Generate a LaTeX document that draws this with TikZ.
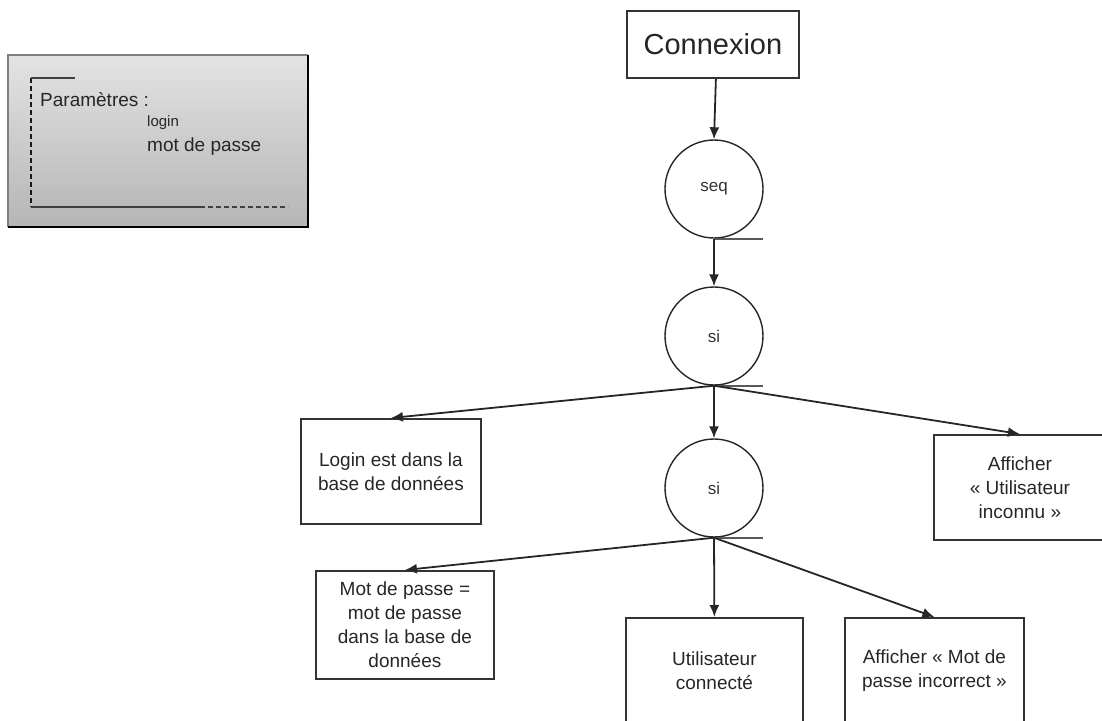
\documentclass[tikz,border=0pt]{standalone}
\usepackage{fontspec}
\setmainfont{Liberation Sans}
\usetikzlibrary{arrows.meta}
\tikzset{
  txt/.style={font=\fontsize{19}{24}\selectfont, text=black!85, align=center, inner sep=0pt},
  box/.style={txt, draw=black!80, line width=1.8pt, anchor=north west},
  ctrl/.style={circle, draw=black!85, line width=1.4pt, minimum size=98pt, inner sep=0pt,
    font=\fontsize{17}{20}\selectfont, text=black!80},
  link/.style={line width=1.8pt, draw=black!85, -{Latex[length=12pt,width=10pt]}},
  tick/.style={line width=1.6pt, draw=black!65},
  dsh/.style={line width=1.4pt, dash pattern=on 5pt off 3pt},
}
\begin{document}
\begin{tikzpicture}[x=1pt,y=-1pt]
\useasboundingbox (0,0) rectangle (1102,720);
\clip (0,0) rectangle (1102,720);
% parameter box
\shade[top color=gray!22, bottom color=gray!58] (8,55) rectangle (308,227);
\draw[line width=1.4pt, gray] (8,227) -- (8,55) -- (308,55);
\draw[line width=2pt, black] (308,55) -- (308,227) -- (8,227);
\draw[dsh, black!90] (31,78) -- (31,207);
\draw[line width=1.4pt, black!75] (31,78) -- (75,78);
\draw[line width=1.4pt, black!75] (31,207) -- (200,207);
\draw[dsh, black!75] (200,207) -- (288,207);
\node[txt, anchor=west] (parlbl) at (40,100) {Paramètres :};
\node[txt, anchor=west, font=\fontsize{15}{18}\selectfont] (parlogin) at (147,123) {login};
\node[txt, anchor=west] (parmdp) at (147,147) {mot de passe};
% main nodes
\node[box, font=\fontsize{29}{34}\selectfont, minimum width=172pt, minimum height=67pt] (cnx) at (626,10) {Connexion};
\node[ctrl] (seq) at (714,189) {seq};
\node[ctrl] (si1) at (714,336) {si};
\node[ctrl] (si2) at (714,488) {si};
\node[box, minimum width=180pt, minimum height=105pt] (login) at (300,418) {Login est dans la\\base de données};
\node[box, minimum width=172pt, minimum height=105pt] (inconnu) at (933,434) {Afficher\\« Utilisateur\\inconnu »};
\node[box, minimum width=178pt, minimum height=108pt] (mdp) at (315,570) {Mot de passe =\\mot de passe\\dans la base de\\données};
\node[box, minimum width=177pt, minimum height=106pt] (ok) at (625,617) {Utilisateur\\connecté};
\node[box, minimum width=179pt, minimum height=106pt] (incorrect) at (844,617) {Afficher « Mot de\\passe incorrect »};
% connectors
\draw[link] ([xshift=3pt]cnx.south) -- (seq.north);
\draw[tick] (seq.south) -- ++(49,0);
\draw[link] (seq.south) -- (si1.north);
\draw[tick] (si1.south) -- ++(49,0);
\draw[link] (si1.south) -- (login.north);
\draw[link] (si1.south) -- (si2.north);
\draw[link] (si1.south) -- (inconnu.north);
\draw[tick] (si2.south) -- ++(49,0);
\draw[link] (si2.south) -- (mdp.north);
\draw[link] (si2.south) -- (ok.north);
\draw[link] (si2.south) -- (incorrect.north);
\end{tikzpicture}
\end{document}
